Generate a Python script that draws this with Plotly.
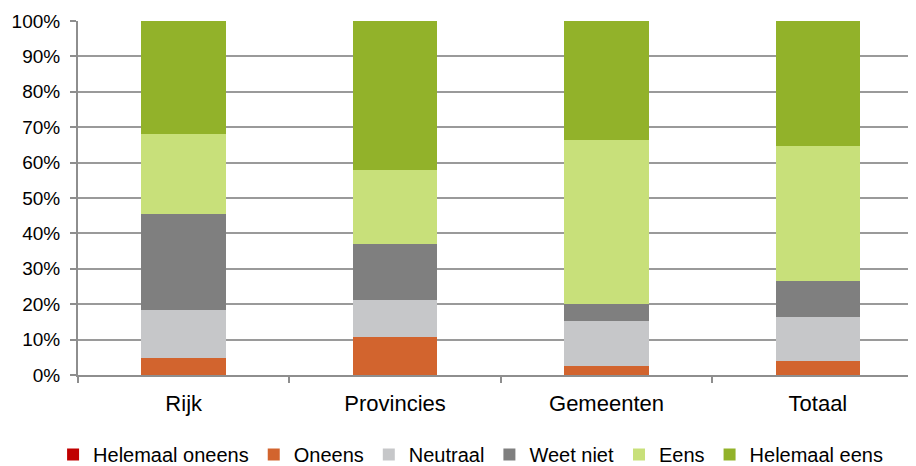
import plotly.graph_objects as go

categories = ["Rijk", "Provincies", "Gemeenten", "Totaal"]
helemaal_oneens = [0.0, 0.0, 0.0, 0.0]
oneens = [4.7, 10.6, 2.5, 4.0]
neutraal = [13.7, 10.7, 12.8, 12.5]
weet_niet = [27.0, 15.6, 4.7, 10.1]
eens = [22.7, 21.0, 46.4, 38.1]
helemaal_eens = [31.9, 42.1, 33.6, 35.3]

series = [
    ("Helemaal oneens", helemaal_oneens, "#C00000"),
    ("Oneens", oneens, "#D2642E"),
    ("Neutraal", neutraal, "#C6C7C9"),
    ("Weet niet", weet_niet, "#7F7F7F"),
    ("Eens", eens, "#C8E07A"),
    ("Helemaal eens", helemaal_eens, "#92B22A"),
]

fig = go.Figure()
for name, vals, color in series:
    fig.add_trace(go.Bar(
        x=categories, y=[v / 100 for v in vals], name=name,
        marker=dict(color=color, line=dict(width=0)),
    ))

font_family = "Liberation Sans, Arial, sans-serif"
fig.update_layout(
    barmode="stack",
    bargap=0.6,
    width=916, height=466,
    margin=dict(l=70, r=8, t=13, b=99, autoexpand=False),
    plot_bgcolor="white", paper_bgcolor="white",
    font=dict(family=font_family, size=16, color="#000000"),
    showlegend=True,
    legend=dict(
        orientation="h", xref="container", x=0.505, xanchor="center",
        yref="container", y=0.0, yanchor="bottom",
        font=dict(size=20, color="#000000"),
        bgcolor="rgba(0,0,0,0)",
        traceorder="normal", itemwidth=30,
    ),
    xaxis=dict(
        range=[-0.5, 3.464], showgrid=False, automargin=False,
        showline=True, linecolor="#8e8e8e", linewidth=2,
        ticks="outside", tickson="boundaries", ticklen=6, tickcolor="#8e8e8e", tickwidth=2,
        tickfont=dict(size=22), fixedrange=True, ticklabelstandoff=8,
    ),
    yaxis=dict(
        range=[0, 1], dtick=0.1, tickformat=".0%", automargin=False,
        showgrid=True, gridcolor="#9a9a9a", gridwidth=1.5,
        showline=True, linecolor="#8e8e8e", linewidth=2,
        ticks="outside", ticklen=6, tickcolor="#8e8e8e", tickwidth=2,
        tickfont=dict(size=19), zeroline=False, ticklabelstandoff=6,
    ),
)

fig.write_html("out.html")
